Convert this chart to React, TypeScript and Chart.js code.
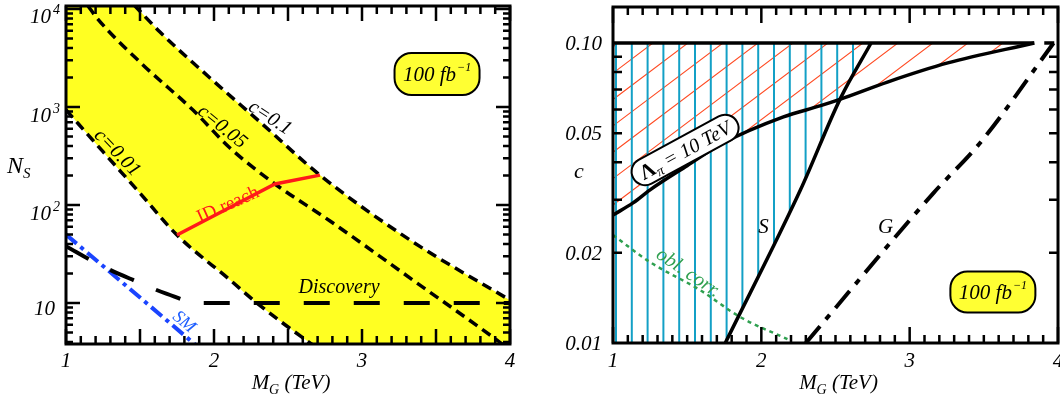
import React, { useEffect, useRef } from 'react';
import { Chart, registerables } from 'chart.js';
Chart.register(...registerables);

const SERIF = '"Liberation Serif", "Times New Roman", serif';
const it = (s: number) => `italic ${s}px ${SERIF}`;
const rm = (s: number) => `${s}px ${SERIF}`;

// ---------------- Left panel: N_S vs M_G ----------------
const MG_MIN = 1, MG_MAX = 4;
const NS_MIN = 3.82, NS_MAX = 10730;
const MG_TICKS = [1, 2, 3, 4];
const NS_TICKS = [10, 100, 1000, 10000];
const NS_TICK_BASE = ['10', '10', '10', '10'];
const NS_TICK_EXP = ['', '2', '3', '4'];

const C01_MG = [1.46, 1.635, 1.973, 2.311, 2.716, 3.324, 4.0];
const C01_NS = [11000, 5820, 1980, 703, 202, 44, 10.7];
const C005_MG = [1.149, 1.209, 1.52, 1.858, 2.108, 2.412, 2.784, 3.372, 3.912, 3.966];
const C005_NS = [10740, 8090, 2690, 931, 382, 164, 68.7, 16.0, 4.19, 3.64];
const C001_MG = [1, 1.25, 1.5, 1.75, 2.108, 2.29, 2.65, 2.72];
const C001_NS = [935, 350, 132, 49.4, 17.2, 10, 3.9, 3.3];
const ID_MG = [1.75, 2.412, 2.716];
const ID_NS = [49.4, 164, 202];
const DISC_MG = [1, 1.216, 1.453, 1.682, 1.905, 4];
const DISC_NS = [38, 25, 17.2, 12.4, 10, 10];
const SM_MG = [1, 1.9];
const SM_NS = [50, 3.48];

// ---------------- Right panel: c vs M_G ----------------
const C_MIN = 0.01, C_MAX_AXIS = 0.1318;
const C_TICKS = [0.01, 0.02, 0.05, 0.1];
const C_TICK_LABELS = ['0.01', '0.02', '0.05', '0.10'];
const CMAX_MG = [1, 3.84];
const CMAX_C = [0.1, 0.1];
const CMAX_TAIL_MG = [3.84, 4.0];
const CMAX_TAIL_C = [0.1, 0.1];
const LAM_MG = [1, 1.135, 1.25, 1.5, 1.743, 2.149, 2.4, 2.534, 2.85, 3.257, 3.84];
const LAM_C = [0.0267, 0.0293, 0.0324, 0.039, 0.0464, 0.0567, 0.0618, 0.065, 0.0741, 0.0858, 0.1];
const S_MG = [1.757, 2.264, 2.534, 2.74];
const S_C = [0.01, 0.0324, 0.0655, 0.1];
const G_MG = [2.3, 3.16, 3.48, 3.97];
const G_C = [0.01, 0.0316, 0.0468, 0.1];
const OBL_MG = [1, 1.25, 1.588, 1.858, 2.176];
const OBL_C = [0.0229, 0.0186, 0.015, 0.0122, 0.0103];

type P = { x: number; y: number };
const zip = (xs: number[], ys: number[]): P[] => xs.map((x, i) => ({ x, y: ys[i] }));

type Part = { t: string; f: string; dy?: number; dx?: number };
function drawRich(ctx: CanvasRenderingContext2D, parts: Part[], x: number, y: number, align: 'left' | 'center' | 'right') {
  let w = 0;
  parts.forEach(p => { ctx.font = p.f; w += ctx.measureText(p.t).width + (p.dx || 0); });
  let cx = align === 'left' ? x : align === 'center' ? x - w / 2 : x - w;
  ctx.textAlign = 'left';
  ctx.textBaseline = 'alphabetic';
  parts.forEach(p => {
    ctx.font = p.f;
    cx += p.dx || 0;
    ctx.fillText(p.t, cx, y + (p.dy || 0));
    cx += ctx.measureText(p.t).width;
  });
}
function rotText(ctx: CanvasRenderingContext2D, t: string, x: number, y: number, deg: number, font: string, color: string) {
  ctx.save();
  ctx.translate(x, y);
  ctx.rotate((deg * Math.PI) / 180);
  ctx.fillStyle = color;
  ctx.font = font;
  ctx.textAlign = 'center';
  ctx.textBaseline = 'middle';
  ctx.fillText(t, 0, 0);
  ctx.restore();
}
function pill(ctx: CanvasRenderingContext2D, cx: number, cy: number, w: number, h: number, r: number, fill: string) {
  const x = cx - w / 2, y = cy - h / 2;
  ctx.beginPath();
  ctx.moveTo(x + r, y);
  ctx.lineTo(x + w - r, y);
  ctx.arcTo(x + w, y, x + w, y + r, r);
  ctx.lineTo(x + w, y + h - r);
  ctx.arcTo(x + w, y + h, x + w - r, y + h, r);
  ctx.lineTo(x + r, y + h);
  ctx.arcTo(x, y + h, x, y + h - r, r);
  ctx.lineTo(x, y + r);
  ctx.arcTo(x, y, x + r, y, r);
  ctx.closePath();
  ctx.fillStyle = fill;
  ctx.fill();
  ctx.lineWidth = 2;
  ctx.strokeStyle = '#000';
  ctx.stroke();
}

// trace a dataset's drawn (curved) line into the current path
function traceLine(chart: any, index: number, move: boolean, reverse: boolean) {
  const el = chart.getDatasetMeta(index).dataset;
  el.updateControlPoints(chart.chartArea, 'x');
  const segs = el.segments;
  const ordered = reverse ? segs.slice().reverse() : segs;
  ordered.forEach((seg: any, i: number) => {
    el.pathSegment(chart.ctx, seg, { move: move && i === 0, reverse });
  });
}

function framePlugin(xt: [number, number][], yt: [number, number][]) {
  return {
    id: 'frameTicks',
    afterDatasetsDraw(chart: any) {
      const { ctx, chartArea: a, scales } = chart;
      const xs = scales.x, ys = scales.y;
      ctx.save();
      ctx.strokeStyle = '#000';
      ctx.lineWidth = 2.5;
      ctx.beginPath();
      for (const [v, len] of xt) {
        const px = xs.getPixelForValue(v);
        ctx.moveTo(px, a.bottom); ctx.lineTo(px, a.bottom - len);
        ctx.moveTo(px, a.top); ctx.lineTo(px, a.top + len);
      }
      for (const [v, len] of yt) {
        const py = ys.getPixelForValue(v);
        ctx.moveTo(a.left, py); ctx.lineTo(a.left + len, py);
        ctx.moveTo(a.right, py); ctx.lineTo(a.right - len, py);
      }
      ctx.stroke();
      ctx.lineWidth = 3;
      ctx.strokeRect(a.left, a.top, a.right - a.left, a.bottom - a.top);
      ctx.restore();
    },
  };
}

const line = (data: P[], color: string, width: number, dash: number[], order: number, smooth = true, dashOffset = 0) => ({
  data, borderColor: color, borderWidth: width, borderDash: dash, borderDashOffset: dashOffset,
  pointRadius: 0, fill: false, tension: 0, order, borderCapStyle: 'butt',
  cubicInterpolationMode: smooth ? 'monotone' : 'default',
});

const baseScales = (yMin: number, yMax: number, yWidth: number, xHeight: number) => ({
  x: {
    type: 'linear', min: MG_MIN, max: MG_MAX,
    grid: { display: false }, border: { display: false }, ticks: { display: false },
    afterFit: (s: any) => { s.height = xHeight; },
  },
  y: {
    type: 'logarithmic', min: yMin, max: yMax,
    grid: { display: false }, border: { display: false }, ticks: { display: false },
    afterFit: (s: any) => { s.width = yWidth; },
  },
});

function leftConfig(): any {
  const xt: [number, number][] = [];
  for (let i = 0; i <= 30; i++) xt.push([MG_MIN + i / 10, i % 5 === 0 ? 15 : 8]);
  const yt: [number, number][] = [];
  for (let d = 0; d <= 4; d++) for (let k = 1; k <= 9; k++) {
    const v = k * Math.pow(10, d);
    if (v >= NS_MIN && v <= NS_MAX) yt.push([v, k === 1 ? 14 : 7]);
  }
  const I_C001 = 2, I_C01 = 4;
  const band = {
    id: 'band',
    beforeDatasetsDraw(chart: any) {
      const { ctx, chartArea: a, scales: { y } } = chart;
      ctx.save();
      ctx.beginPath(); ctx.rect(a.left, a.top, a.right - a.left, a.bottom - a.top); ctx.clip();
      ctx.beginPath();
      traceLine(chart, I_C001, true, false);
      ctx.lineTo(a.right + 30, a.bottom + 30);
      ctx.lineTo(a.right + 30, y.getPixelForValue(C01_NS[C01_NS.length - 1]));
      traceLine(chart, I_C01, false, true);
      ctx.lineTo(a.left - 30, a.top - 30);
      ctx.lineTo(a.left - 30, y.getPixelForValue(C001_NS[0]));
      ctx.closePath();
      ctx.fillStyle = '#ffff22';
      ctx.fill();
      ctx.restore();
    },
  };
  const labels = {
    id: 'labelsL',
    afterDraw(chart: any) {
      const { ctx, chartArea: a, scales: { x, y } } = chart;
      ctx.save();
      ctx.fillStyle = '#000';
      MG_TICKS.forEach(v => drawRich(ctx, [{ t: String(v), f: it(21) }], x.getPixelForValue(v), a.bottom + 23, 'center'));
      NS_TICKS.forEach((v, i) => {
        const py = y.getPixelForValue(v);
        if (NS_TICK_EXP[i]) drawRich(ctx, [{ t: NS_TICK_BASE[i], f: it(21) }, { t: NS_TICK_EXP[i], f: it(14), dy: -9, dx: 2 }], a.left - 6, py + 14.5, 'right');
        else drawRich(ctx, [{ t: NS_TICK_BASE[i], f: it(21) }], a.left - 11, py + 11.5, 'right');
      });
      drawRich(ctx, [{ t: 'N', f: it(24) }, { t: 'S', f: it(15), dy: 5 }], 7, 173, 'left');
      drawRich(ctx, [{ t: 'M', f: it(21) }, { t: 'G', f: it(14), dy: 5 }, { t: ' (TeV)', f: it(21) }], (a.left + a.right) / 2 + 3, 389, 'center');
      rotText(ctx, 'c=0.1', x.getPixelForValue(2.378), y.getPixelForValue(773), 33, it(20), '#000');
      rotText(ctx, 'c=0.05', x.getPixelForValue(2.054), y.getPixelForValue(625), 39, it(20), '#000');
      rotText(ctx, 'c=0.01', x.getPixelForValue(1.345), y.getPixelForValue(340), 46, it(20), '#000');
      rotText(ctx, 'ID reach', x.getPixelForValue(2.095), y.getPixelForValue(100), -24, rm(19), '#ff1a1a');
      rotText(ctx, 'Discovery', x.getPixelForValue(2.845), y.getPixelForValue(14.2), 0, it(20), '#000');
      rotText(ctx, 'SM', x.getPixelForValue(1.797), y.getPixelForValue(6.4), 40, it(18), '#1f5fff');
      const bx = x.getPixelForValue(3.507), by = y.getPixelForValue(2170);
      pill(ctx, bx, by, 85, 42, 17, '#ffff33');
      ctx.fillStyle = '#000';
      drawRich(ctx, [{ t: '100 fb', f: it(21) }, { t: '\u22121', f: it(12), dy: -10, dx: 1 }], bx, by + 7, 'center');
      ctx.restore();
    },
  };
  return {
    type: 'line',
    data: {
      datasets: [
        line(zip(DISC_MG, DISC_NS), '#000', 4, [26, 24], 4),
        line(zip(SM_MG, SM_NS), '#1a44ff', 4, [14, 5, 4, 5], 4, false),
        line(zip(C001_MG, C001_NS), '#000', 3.5, [10, 6], 2),
        line(zip(C005_MG, C005_NS), '#000', 3.5, [10, 6], 2),
        line(zip(C01_MG, C01_NS), '#000', 3.5, [10, 6], 2),
        line(zip(ID_MG, ID_NS), '#ff1a1a', 3.5, [], 1, false),
      ],
    },
    options: {
      animation: false, responsive: false, devicePixelRatio: 1,
      layout: { padding: { top: 6, right: 20, left: 0, bottom: 0 } },
      scales: baseScales(NS_MIN, NS_MAX, 66, 53),
      plugins: { legend: { display: false }, tooltip: { enabled: false } },
    },
    plugins: [band, framePlugin(xt, yt), labels],
  };
}

function rightConfig(): any {
  const xt: [number, number][] = [];
  for (let i = 0; i <= 30; i++) xt.push([MG_MIN + i / 10, i % 10 === 0 ? 16 : 8]);
  const yt: [number, number][] = [];
  for (let k = 2; k <= 9; k++) yt.push([k / 100, 9]);
  const I_LAM = 3, I_S = 4;
  const hatch = {
    id: 'hatch',
    beforeDatasetsDraw(chart: any) {
      const { ctx, chartArea: a, scales: { x, y } } = chart;
      const y0 = y.getPixelForValue(CMAX_C[0]);
      const x0 = x.getPixelForValue(MG_MIN);
      ctx.save();
      ctx.beginPath(); ctx.rect(a.left, a.top, a.right - a.left, a.bottom - a.top); ctx.clip();
      ctx.beginPath();
      traceLine(chart, I_LAM, true, false);
      ctx.lineTo(x0, y0);
      ctx.closePath();
      ctx.clip();
      ctx.strokeStyle = '#ff4a22';
      ctx.lineWidth = 1.1;
      const ca = Math.cos((37 * Math.PI) / 180), sa = Math.sin((37 * Math.PI) / 180);
      ctx.beginPath();
      for (let k = -5; k < 20; k++) {
        const xa = a.left + 5 + 35 * k;
        ctx.moveTo(xa - 600 * ca, y0 + 600 * sa);
        ctx.lineTo(xa + 600 * ca, y0 - 600 * sa);
      }
      ctx.stroke();
      ctx.restore();
      ctx.save();
      ctx.beginPath(); ctx.rect(a.left, a.top, a.right - a.left, a.bottom - a.top); ctx.clip();
      ctx.beginPath();
      ctx.moveTo(x0, y.getPixelForValue(C_MIN));
      traceLine(chart, I_S, false, false);
      ctx.lineTo(x0, y0);
      ctx.closePath();
      ctx.clip();
      ctx.strokeStyle = '#13a0c6';
      ctx.lineWidth = 2;
      ctx.beginPath();
      for (let k = 0; k < 40; k++) {
        const xp = a.left + 3 + 15.8 * k;
        ctx.moveTo(xp, a.top);
        ctx.lineTo(xp, a.bottom);
      }
      ctx.stroke();
      ctx.restore();
    },
  };
  const labels = {
    id: 'labelsR',
    afterDraw(chart: any) {
      const { ctx, chartArea: a, scales: { x, y } } = chart;
      ctx.save();
      ctx.fillStyle = '#000';
      MG_TICKS.forEach(v => drawRich(ctx, [{ t: String(v), f: it(21) }], x.getPixelForValue(v), a.bottom + 24, 'center'));
      C_TICKS.forEach((v, i) => drawRich(ctx, [{ t: C_TICK_LABELS[i], f: it(21) }], a.left - 11, y.getPixelForValue(v) + 7, 'right'));
      drawRich(ctx, [{ t: 'c', f: it(22) }], 44, 178, 'left');
      drawRich(ctx, [{ t: 'M', f: it(21) }, { t: 'G', f: it(14), dy: 5 }, { t: ' (TeV)', f: it(21) }], (a.left + a.right) / 2 + 3, 389, 'center');
      rotText(ctx, 'S', x.getPixelForValue(2.014), y.getPixelForValue(0.0242), 0, it(21), '#000');
      rotText(ctx, 'G', x.getPixelForValue(2.838), y.getPixelForValue(0.0242), 0, it(21), '#000');
      rotText(ctx, 'obl. corr.', x.getPixelForValue(1.507), y.getPixelForValue(0.0171), 34, it(20), '#2fa050');
      const lx = x.getPixelForValue(1.486), ly = y.getPixelForValue(0.044);
      ctx.save();
      ctx.translate(lx, ly);
      ctx.rotate((-28.5 * Math.PI) / 180);
      pill(ctx, 0, 0, 118, 27, 13.5, '#fff');
      ctx.fillStyle = '#000';
      drawRich(ctx, [{ t: '\u039B', f: `bold 21px ${SERIF}` }, { t: '\u03C0', f: it(14), dy: 4 }, { t: ' = 10 TeV', f: it(20) }], 0, 7, 'center');
      ctx.restore();
      const bx = x.getPixelForValue(3.561), by = y.getPixelForValue(0.0148);
      pill(ctx, bx, by, 85, 41, 17, '#ffff33');
      ctx.fillStyle = '#000';
      drawRich(ctx, [{ t: '100 fb', f: it(21) }, { t: '\u22121', f: it(12), dy: -10, dx: 1 }], bx, by + 7, 'center');
      ctx.restore();
    },
  };
  return {
    type: 'line',
    data: {
      datasets: [
        line(zip(OBL_MG, OBL_C), '#2fa050', 2.5, [4, 4], 3),
        line(zip(G_MG, G_C), '#000', 4, [22, 9, 6, 9], 2),
        line(zip(CMAX_TAIL_MG, CMAX_TAIL_C), '#000', 3.5, [10, 10], 2, false, 10),
        line(zip(LAM_MG, LAM_C), '#000', 3.5, [], 1),
        line(zip(S_MG, S_C), '#000', 3.5, [], 1),
        line(zip(CMAX_MG, CMAX_C), '#000', 3.5, [], 1, false),
      ],
    },
    options: {
      animation: false, responsive: false, devicePixelRatio: 1,
      layout: { padding: { top: 7, right: 2, left: 0, bottom: 0 } },
      scales: baseScales(C_MIN, C_MAX_AXIS, 83, 54),
      plugins: { legend: { display: false }, tooltip: { enabled: false } },
    },
    plugins: [hatch, framePlugin(xt, yt), labels],
  };
}

export default function App() {
  const leftRef = useRef<HTMLCanvasElement>(null);
  const rightRef = useRef<HTMLCanvasElement>(null);
  useEffect(() => {
    const l = new Chart(leftRef.current as HTMLCanvasElement, leftConfig());
    const r = new Chart(rightRef.current as HTMLCanvasElement, rightConfig());
    return () => { l.destroy(); r.destroy(); };
  }, []);
  return (
    <div style={{ position: 'absolute', left: 0, top: 0, width: 1060, height: 397, background: '#fff' }}>
      <canvas ref={leftRef} width={530} height={397} style={{ position: 'absolute', left: 0, top: 0, width: 530, height: 397 }} />
      <canvas ref={rightRef} width={530} height={397} style={{ position: 'absolute', left: 530, top: 0, width: 530, height: 397 }} />
    </div>
  );
}
